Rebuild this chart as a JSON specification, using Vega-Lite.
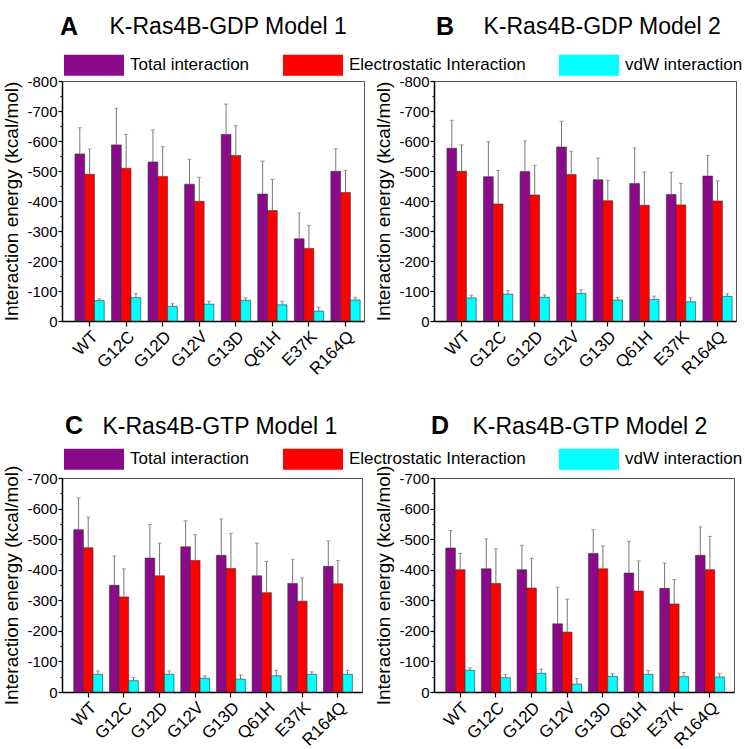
{
  "$schema": "https://vega.github.io/schema/vega-lite/v6.json",
  "padding": {"left": 2, "top": 14, "right": 2, "bottom": 2},
  "data": {"values": [
    {"panel":"A","mutant":"WT","type":"Total interaction","energy":-557,"bound":-644},
    {"panel":"A","mutant":"WT","type":"Electrostatic Interaction","energy":-489,"bound":-573},
    {"panel":"A","mutant":"WT","type":"vdW interaction","energy":-68,"bound":-74},
    {"panel":"A","mutant":"G12C","type":"Total interaction","energy":-587,"bound":-709},
    {"panel":"A","mutant":"G12C","type":"Electrostatic Interaction","energy":-509,"bound":-622},
    {"panel":"A","mutant":"G12C","type":"vdW interaction","energy":-78,"bound":-92},
    {"panel":"A","mutant":"G12D","type":"Total interaction","energy":-530,"bound":-637},
    {"panel":"A","mutant":"G12D","type":"Electrostatic Interaction","energy":-482,"bound":-581},
    {"panel":"A","mutant":"G12D","type":"vdW interaction","energy":-49,"bound":-59},
    {"panel":"A","mutant":"G12V","type":"Total interaction","energy":-456,"bound":-539},
    {"panel":"A","mutant":"G12V","type":"Electrostatic Interaction","energy":-399,"bound":-479},
    {"panel":"A","mutant":"G12V","type":"vdW interaction","energy":-56,"bound":-66},
    {"panel":"A","mutant":"G13D","type":"Total interaction","energy":-622,"bound":-723},
    {"panel":"A","mutant":"G13D","type":"Electrostatic Interaction","energy":-552,"bound":-651},
    {"panel":"A","mutant":"G13D","type":"vdW interaction","energy":-69,"bound":-77},
    {"panel":"A","mutant":"Q61H","type":"Total interaction","energy":-423,"bound":-533},
    {"panel":"A","mutant":"Q61H","type":"Electrostatic Interaction","energy":-368,"bound":-472},
    {"panel":"A","mutant":"Q61H","type":"vdW interaction","energy":-54,"bound":-66},
    {"panel":"A","mutant":"E37K","type":"Total interaction","energy":-274,"bound":-360},
    {"panel":"A","mutant":"E37K","type":"Electrostatic Interaction","energy":-242,"bound":-319},
    {"panel":"A","mutant":"E37K","type":"vdW interaction","energy":-33,"bound":-46},
    {"panel":"A","mutant":"R164Q","type":"Total interaction","energy":-499,"bound":-574},
    {"panel":"A","mutant":"R164Q","type":"Electrostatic Interaction","energy":-428,"bound":-502},
    {"panel":"A","mutant":"R164Q","type":"vdW interaction","energy":-70,"bound":-79},
    {"panel":"B","mutant":"WT","type":"Total interaction","energy":-576,"bound":-669},
    {"panel":"B","mutant":"WT","type":"Electrostatic Interaction","energy":-499,"bound":-587},
    {"panel":"B","mutant":"WT","type":"vdW interaction","energy":-77,"bound":-86},
    {"panel":"B","mutant":"G12C","type":"Total interaction","energy":-481,"bound":-598},
    {"panel":"B","mutant":"G12C","type":"Electrostatic Interaction","energy":-390,"bound":-502},
    {"panel":"B","mutant":"G12C","type":"vdW interaction","energy":-90,"bound":-102},
    {"panel":"B","mutant":"G12D","type":"Total interaction","energy":-498,"bound":-600},
    {"panel":"B","mutant":"G12D","type":"Electrostatic Interaction","energy":-420,"bound":-519},
    {"panel":"B","mutant":"G12D","type":"vdW interaction","energy":-79,"bound":-87},
    {"panel":"B","mutant":"G12V","type":"Total interaction","energy":-580,"bound":-666},
    {"panel":"B","mutant":"G12V","type":"Electrostatic Interaction","energy":-488,"bound":-566},
    {"panel":"B","mutant":"G12V","type":"vdW interaction","energy":-92,"bound":-104},
    {"panel":"B","mutant":"G13D","type":"Total interaction","energy":-471,"bound":-543},
    {"panel":"B","mutant":"G13D","type":"Electrostatic Interaction","energy":-401,"bound":-469},
    {"panel":"B","mutant":"G13D","type":"vdW interaction","energy":-70,"bound":-79},
    {"panel":"B","mutant":"Q61H","type":"Total interaction","energy":-458,"bound":-577},
    {"panel":"B","mutant":"Q61H","type":"Electrostatic Interaction","energy":-386,"bound":-497},
    {"panel":"B","mutant":"Q61H","type":"vdW interaction","energy":-72,"bound":-83},
    {"panel":"B","mutant":"E37K","type":"Total interaction","energy":-422,"bound":-496},
    {"panel":"B","mutant":"E37K","type":"Electrostatic Interaction","energy":-387,"bound":-459},
    {"panel":"B","mutant":"E37K","type":"vdW interaction","energy":-64,"bound":-77},
    {"panel":"B","mutant":"R164Q","type":"Total interaction","energy":-483,"bound":-552},
    {"panel":"B","mutant":"R164Q","type":"Electrostatic Interaction","energy":-400,"bound":-467},
    {"panel":"B","mutant":"R164Q","type":"vdW interaction","energy":-82,"bound":-91},
    {"panel":"C","mutant":"WT","type":"Total interaction","energy":-531,"bound":-635},
    {"panel":"C","mutant":"WT","type":"Electrostatic Interaction","energy":-472,"bound":-572},
    {"panel":"C","mutant":"WT","type":"vdW interaction","energy":-58,"bound":-69},
    {"panel":"C","mutant":"G12C","type":"Total interaction","energy":-349,"bound":-445},
    {"panel":"C","mutant":"G12C","type":"Electrostatic Interaction","energy":-311,"bound":-403},
    {"panel":"C","mutant":"G12C","type":"vdW interaction","energy":-37,"bound":-47},
    {"panel":"C","mutant":"G12D","type":"Total interaction","energy":-438,"bound":-548},
    {"panel":"C","mutant":"G12D","type":"Electrostatic Interaction","energy":-380,"bound":-487},
    {"panel":"C","mutant":"G12D","type":"vdW interaction","energy":-58,"bound":-69},
    {"panel":"C","mutant":"G12V","type":"Total interaction","energy":-475,"bound":-560},
    {"panel":"C","mutant":"G12V","type":"Electrostatic Interaction","energy":-430,"bound":-515},
    {"panel":"C","mutant":"G12V","type":"vdW interaction","energy":-45,"bound":-53},
    {"panel":"C","mutant":"G13D","type":"Total interaction","energy":-447,"bound":-566},
    {"panel":"C","mutant":"G13D","type":"Electrostatic Interaction","energy":-404,"bound":-519},
    {"panel":"C","mutant":"G13D","type":"vdW interaction","energy":-42,"bound":-56},
    {"panel":"C","mutant":"Q61H","type":"Total interaction","energy":-380,"bound":-487},
    {"panel":"C","mutant":"Q61H","type":"Electrostatic Interaction","energy":-325,"bound":-427},
    {"panel":"C","mutant":"Q61H","type":"vdW interaction","energy":-53,"bound":-71},
    {"panel":"C","mutant":"E37K","type":"Total interaction","energy":-355,"bound":-433},
    {"panel":"C","mutant":"E37K","type":"Electrostatic Interaction","energy":-297,"bound":-373},
    {"panel":"C","mutant":"E37K","type":"vdW interaction","energy":-58,"bound":-66},
    {"panel":"C","mutant":"R164Q","type":"Total interaction","energy":-411,"bound":-494},
    {"panel":"C","mutant":"R164Q","type":"Electrostatic Interaction","energy":-354,"bound":-430},
    {"panel":"C","mutant":"R164Q","type":"vdW interaction","energy":-58,"bound":-71},
    {"panel":"D","mutant":"WT","type":"Total interaction","energy":-471,"bound":-528},
    {"panel":"D","mutant":"WT","type":"Electrostatic Interaction","energy":-400,"bound":-453},
    {"panel":"D","mutant":"WT","type":"vdW interaction","energy":-71,"bound":-79},
    {"panel":"D","mutant":"G12C","type":"Total interaction","energy":-403,"bound":-501},
    {"panel":"D","mutant":"G12C","type":"Electrostatic Interaction","energy":-355,"bound":-468},
    {"panel":"D","mutant":"G12C","type":"vdW interaction","energy":-47,"bound":-57},
    {"panel":"D","mutant":"G12D","type":"Total interaction","energy":-400,"bound":-480},
    {"panel":"D","mutant":"G12D","type":"Electrostatic Interaction","energy":-340,"bound":-437},
    {"panel":"D","mutant":"G12D","type":"vdW interaction","energy":-61,"bound":-75},
    {"panel":"D","mutant":"G12V","type":"Total interaction","energy":-223,"bound":-343},
    {"panel":"D","mutant":"G12V","type":"Electrostatic Interaction","energy":-196,"bound":-304},
    {"panel":"D","mutant":"G12V","type":"vdW interaction","energy":-26,"bound":-44},
    {"panel":"D","mutant":"G13D","type":"Total interaction","energy":-453,"bound":-531},
    {"panel":"D","mutant":"G13D","type":"Electrostatic Interaction","energy":-403,"bound":-478},
    {"panel":"D","mutant":"G13D","type":"vdW interaction","energy":-51,"bound":-60},
    {"panel":"D","mutant":"Q61H","type":"Total interaction","energy":-389,"bound":-493},
    {"panel":"D","mutant":"Q61H","type":"Electrostatic Interaction","energy":-330,"bound":-429},
    {"panel":"D","mutant":"Q61H","type":"vdW interaction","energy":-58,"bound":-70},
    {"panel":"D","mutant":"E37K","type":"Total interaction","energy":-339,"bound":-422},
    {"panel":"D","mutant":"E37K","type":"Electrostatic Interaction","energy":-288,"bound":-368},
    {"panel":"D","mutant":"E37K","type":"vdW interaction","energy":-50,"bound":-64},
    {"panel":"D","mutant":"R164Q","type":"Total interaction","energy":-447,"bound":-540},
    {"panel":"D","mutant":"R164Q","type":"Electrostatic Interaction","energy":-400,"bound":-509},
    {"panel":"D","mutant":"R164Q","type":"vdW interaction","energy":-49,"bound":-61}
  ]},
  "bounds": "flush",
  "spacing": 397,
  "resolve": {"scale": {"x": "independent", "y": "independent", "color": "independent", "xOffset": "independent"}, "legend": {"color": "independent"}, "axis": {"x": "independent", "y": "independent"}},
  "vconcat": [
    {
      "bounds": "flush",
      "spacing": 70,
      "resolve": {"scale": {"x": "independent", "y": "independent", "color": "independent", "xOffset": "independent"}, "legend": {"color": "independent"}, "axis": {"x": "independent", "y": "independent"}},
      "hconcat": [
        {
          "width": 302, "height": 240,
          "title": {"text": "A", "anchor": "start", "frame": "group", "fontSize": 25, "fontWeight": "bold", "dx": -2, "dy": 29},
          "transform": [{"filter": "datum.panel == 'A'"}],
          "resolve": {"axis": {"x": "independent"}},
          "layer": [
            {"mark": {"type": "bar", "stroke": "#333", "strokeWidth": 0.6},
             "encoding": {
               "x": {"field": "mutant", "type": "nominal", "sort": ["WT","G12C","G12D","G12V","G13D","Q61H","E37K","R164Q"], "scale": {"paddingInner": 0.2, "paddingOuter": 0.23, "align": 0.77}, "axis": {"title": null, "orient": "bottom"}},
               "xOffset": {"field": "type", "type": "nominal", "sort": ["Total interaction","Electrostatic Interaction","vdW interaction"]},
               "y": {"field": "energy", "type": "quantitative", "scale": {"domain": [0, -800]}, "title": "Interaction energy (kcal/mol)", "axis": {"values": [0,-50,-100,-150,-200,-250,-300,-350,-400,-450,-500,-550,-600,-650,-700,-750,-800], "tickCount": 100, "labelOverlap": false, "labelExpr": "datum.value % 100 == 0 ? (datum.value == 0 ? '0' : '-' + abs(datum.value)) : ''", "tickSize": {"condition": {"test": "datum.value % 100 != 0", "value": 2}, "value": 4}}},
               "color": {"field": "type", "type": "nominal", "sort": ["Total interaction","Electrostatic Interaction","vdW interaction"], "scale": {"domain": ["Total interaction","Electrostatic Interaction","vdW interaction"], "range": ["#8A0A8A","#FF0000","#00FFFF"]},
                 "legend": {"orient": "none", "legendX": 2, "legendY": -46, "direction": "horizontal", "title": null, "symbolType": "M-1,-0.35H1V0.35H-1Z", "symbolSize": 3600, "symbolStrokeWidth": 0, "symbolOpacity": 1, "labelFontSize": 17, "labelOffset": 6, "columnPadding": 33, "labelLimit": 400}}
             }},
            {"mark": {"type": "rule", "color": "#777", "strokeWidth": 1},
             "encoding": {
               "x": {"field": "mutant", "type": "nominal", "sort": ["WT","G12C","G12D","G12V","G13D","Q61H","E37K","R164Q"], "axis": null},
               "xOffset": {"field": "type", "type": "nominal", "sort": ["Total interaction","Electrostatic Interaction","vdW interaction"]},
               "y": {"field": "energy", "type": "quantitative", "title": "Interaction energy (kcal/mol)"},
               "y2": {"field": "bound"}
             }},
            {"mark": {"type": "tick", "color": "#777", "thickness": 1, "size": 4},
             "encoding": {
               "x": {"field": "mutant", "type": "nominal", "sort": ["WT","G12C","G12D","G12V","G13D","Q61H","E37K","R164Q"], "axis": {"orient": "top", "labels": false, "ticks": false, "domain": false, "title": "K-Ras4B-GDP Model 1", "titleFontSize": 23, "titleFontWeight": "normal", "titleAlign": "left", "titleBaseline": "alphabetic", "titleX": 47, "titleY": -48}},
               "xOffset": {"field": "type", "type": "nominal", "sort": ["Total interaction","Electrostatic Interaction","vdW interaction"]},
               "y": {"field": "bound", "type": "quantitative", "title": "Interaction energy (kcal/mol)"}
             }}
          ]
        },
        {
          "width": 302, "height": 240,
          "title": {"text": "B", "anchor": "start", "frame": "group", "fontSize": 25, "fontWeight": "bold", "dx": 2, "dy": 29},
          "transform": [{"filter": "datum.panel == 'B'"}],
          "resolve": {"axis": {"x": "independent"}},
          "layer": [
            {"mark": {"type": "bar", "stroke": "#333", "strokeWidth": 0.6},
             "encoding": {
               "x": {"field": "mutant", "type": "nominal", "sort": ["WT","G12C","G12D","G12V","G13D","Q61H","E37K","R164Q"], "scale": {"paddingInner": 0.2, "paddingOuter": 0.23, "align": 0.77}, "axis": {"title": null, "orient": "bottom"}},
               "xOffset": {"field": "type", "type": "nominal", "sort": ["Total interaction","Electrostatic Interaction","vdW interaction"]},
               "y": {"field": "energy", "type": "quantitative", "scale": {"domain": [0, -800]}, "title": "Interaction energy (kcal/mol)", "axis": {"values": [0,-50,-100,-150,-200,-250,-300,-350,-400,-450,-500,-550,-600,-650,-700,-750,-800], "tickCount": 100, "labelOverlap": false, "labelExpr": "datum.value % 100 == 0 ? (datum.value == 0 ? '0' : '-' + abs(datum.value)) : ''", "tickSize": {"condition": {"test": "datum.value % 100 != 0", "value": 2}, "value": 4}}},
               "color": {"field": "type", "type": "nominal", "sort": ["Total interaction","Electrostatic Interaction","vdW interaction"], "scale": {"domain": ["Total interaction","Electrostatic Interaction","vdW interaction"], "range": ["#8A0A8A","#FF0000","#00FFFF"]}, "legend": null}
             }},
            {"mark": {"type": "rule", "color": "#777", "strokeWidth": 1},
             "encoding": {
               "x": {"field": "mutant", "type": "nominal", "sort": ["WT","G12C","G12D","G12V","G13D","Q61H","E37K","R164Q"], "axis": null},
               "xOffset": {"field": "type", "type": "nominal", "sort": ["Total interaction","Electrostatic Interaction","vdW interaction"]},
               "y": {"field": "energy", "type": "quantitative", "title": "Interaction energy (kcal/mol)"},
               "y2": {"field": "bound"}
             }},
            {"mark": {"type": "tick", "color": "#777", "thickness": 1, "size": 4},
             "encoding": {
               "x": {"field": "mutant", "type": "nominal", "sort": ["WT","G12C","G12D","G12V","G13D","Q61H","E37K","R164Q"], "axis": {"orient": "top", "labels": false, "ticks": false, "domain": false, "title": "K-Ras4B-GDP Model 2", "titleFontSize": 23, "titleFontWeight": "normal", "titleAlign": "left", "titleBaseline": "alphabetic", "titleX": 49, "titleY": -48}},
               "xOffset": {"field": "type", "type": "nominal", "sort": ["Total interaction","Electrostatic Interaction","vdW interaction"]},
               "y": {"field": "bound", "type": "quantitative", "title": "Interaction energy (kcal/mol)"}
             }}
          ]
        }
      ]
    },
    {
      "bounds": "flush",
      "spacing": 72,
      "resolve": {"scale": {"x": "independent", "y": "independent", "color": "independent", "xOffset": "independent"}, "legend": {"color": "independent"}, "axis": {"x": "independent", "y": "independent"}},
      "hconcat": [
        {
          "width": 300, "height": 214,
          "title": {"text": "C", "anchor": "start", "frame": "group", "fontSize": 25, "fontWeight": "bold", "dx": 3, "dy": 28},
          "transform": [{"filter": "datum.panel == 'C'"}],
          "resolve": {"axis": {"x": "independent"}},
          "layer": [
            {"mark": {"type": "bar", "stroke": "#333", "strokeWidth": 0.6},
             "encoding": {
               "x": {"field": "mutant", "type": "nominal", "sort": ["WT","G12C","G12D","G12V","G13D","Q61H","E37K","R164Q"], "scale": {"paddingInner": 0.19, "paddingOuter": 0.3, "align": 0.55}, "axis": {"title": null, "orient": "bottom"}},
               "xOffset": {"field": "type", "type": "nominal", "sort": ["Total interaction","Electrostatic Interaction","vdW interaction"]},
               "y": {"field": "energy", "type": "quantitative", "scale": {"domain": [0, -700]}, "title": "Interaction energy (kcal/mol)", "axis": {"values": [0,-50,-100,-150,-200,-250,-300,-350,-400,-450,-500,-550,-600,-650,-700], "tickCount": 100, "labelOverlap": false, "labelExpr": "datum.value % 100 == 0 ? (datum.value == 0 ? '0' : '-' + abs(datum.value)) : ''", "tickSize": {"condition": {"test": "datum.value % 100 != 0", "value": 2}, "value": 4}}},
               "color": {"field": "type", "type": "nominal", "sort": ["Total interaction","Electrostatic Interaction","vdW interaction"], "scale": {"domain": ["Total interaction","Electrostatic Interaction","vdW interaction"], "range": ["#8A0A8A","#FF0000","#00FFFF"]},
                 "legend": {"orient": "none", "legendX": 2, "legendY": -49, "direction": "horizontal", "title": null, "symbolType": "M-1,-0.35H1V0.35H-1Z", "symbolSize": 3600, "symbolStrokeWidth": 0, "symbolOpacity": 1, "labelFontSize": 17, "labelOffset": 6, "columnPadding": 33, "labelLimit": 400}}
             }},
            {"mark": {"type": "rule", "color": "#777", "strokeWidth": 1},
             "encoding": {
               "x": {"field": "mutant", "type": "nominal", "sort": ["WT","G12C","G12D","G12V","G13D","Q61H","E37K","R164Q"], "axis": null},
               "xOffset": {"field": "type", "type": "nominal", "sort": ["Total interaction","Electrostatic Interaction","vdW interaction"]},
               "y": {"field": "energy", "type": "quantitative", "title": "Interaction energy (kcal/mol)"},
               "y2": {"field": "bound"}
             }},
            {"mark": {"type": "tick", "color": "#777", "thickness": 1, "size": 4},
             "encoding": {
               "x": {"field": "mutant", "type": "nominal", "sort": ["WT","G12C","G12D","G12V","G13D","Q61H","E37K","R164Q"], "axis": {"orient": "top", "labels": false, "ticks": false, "domain": false, "title": "K-Ras4B-GTP Model 1", "titleFontSize": 23, "titleFontWeight": "normal", "titleAlign": "left", "titleBaseline": "alphabetic", "titleX": 40, "titleY": -45}},
               "xOffset": {"field": "type", "type": "nominal", "sort": ["Total interaction","Electrostatic Interaction","vdW interaction"]},
               "y": {"field": "bound", "type": "quantitative", "title": "Interaction energy (kcal/mol)"}
             }}
          ]
        },
        {
          "width": 300, "height": 214,
          "title": {"text": "D", "anchor": "start", "frame": "group", "fontSize": 25, "fontWeight": "bold", "dx": -3, "dy": 28},
          "transform": [{"filter": "datum.panel == 'D'"}],
          "resolve": {"axis": {"x": "independent"}},
          "layer": [
            {"mark": {"type": "bar", "stroke": "#333", "strokeWidth": 0.6},
             "encoding": {
               "x": {"field": "mutant", "type": "nominal", "sort": ["WT","G12C","G12D","G12V","G13D","Q61H","E37K","R164Q"], "scale": {"paddingInner": 0.19, "paddingOuter": 0.3, "align": 0.55}, "axis": {"title": null, "orient": "bottom"}},
               "xOffset": {"field": "type", "type": "nominal", "sort": ["Total interaction","Electrostatic Interaction","vdW interaction"]},
               "y": {"field": "energy", "type": "quantitative", "scale": {"domain": [0, -700]}, "title": "Interaction energy (kcal/mol)", "axis": {"values": [0,-50,-100,-150,-200,-250,-300,-350,-400,-450,-500,-550,-600,-650,-700], "tickCount": 100, "labelOverlap": false, "labelExpr": "datum.value % 100 == 0 ? (datum.value == 0 ? '0' : '-' + abs(datum.value)) : ''", "tickSize": {"condition": {"test": "datum.value % 100 != 0", "value": 2}, "value": 4}}},
               "color": {"field": "type", "type": "nominal", "sort": ["Total interaction","Electrostatic Interaction","vdW interaction"], "scale": {"domain": ["Total interaction","Electrostatic Interaction","vdW interaction"], "range": ["#8A0A8A","#FF0000","#00FFFF"]}, "legend": null}
             }},
            {"mark": {"type": "rule", "color": "#777", "strokeWidth": 1},
             "encoding": {
               "x": {"field": "mutant", "type": "nominal", "sort": ["WT","G12C","G12D","G12V","G13D","Q61H","E37K","R164Q"], "axis": null},
               "xOffset": {"field": "type", "type": "nominal", "sort": ["Total interaction","Electrostatic Interaction","vdW interaction"]},
               "y": {"field": "energy", "type": "quantitative", "title": "Interaction energy (kcal/mol)"},
               "y2": {"field": "bound"}
             }},
            {"mark": {"type": "tick", "color": "#777", "thickness": 1, "size": 4},
             "encoding": {
               "x": {"field": "mutant", "type": "nominal", "sort": ["WT","G12C","G12D","G12V","G13D","Q61H","E37K","R164Q"], "axis": {"orient": "top", "labels": false, "ticks": false, "domain": false, "title": "K-Ras4B-GTP Model 2", "titleFontSize": 23, "titleFontWeight": "normal", "titleAlign": "left", "titleBaseline": "alphabetic", "titleX": 38, "titleY": -45}},
               "xOffset": {"field": "type", "type": "nominal", "sort": ["Total interaction","Electrostatic Interaction","vdW interaction"]},
               "y": {"field": "bound", "type": "quantitative", "title": "Interaction energy (kcal/mol)"}
             }}
          ]
        }
      ]
    }
  ],
  "config": {
    "font": "Liberation Sans",
    "background": "white",
    "view": {"stroke": "#555", "strokeWidth": 1},
    "title": {"color": "#000", "font": "Liberation Sans"},
    "axis": {"domainColor": "#000", "domainWidth": 1.5, "tickColor": "#000", "tickWidth": 1.2, "labelColor": "#000", "titleColor": "#000", "grid": false, "labelFont": "Liberation Sans", "titleFont": "Liberation Sans"},
    "axisX": {"labelFontSize": 17, "labelAngle": -45, "tickSize": 5, "labelPadding": 2},
    "axisY": {"labelFontSize": 15, "titleFontSize": 19, "titleFontWeight": "normal", "titlePadding": 5, "labelPadding": 1, "tickSize": 4, "labelOverlap": false},
    "legend": {"labelColor": "#000", "labelFont": "Liberation Sans"}
  }
}
